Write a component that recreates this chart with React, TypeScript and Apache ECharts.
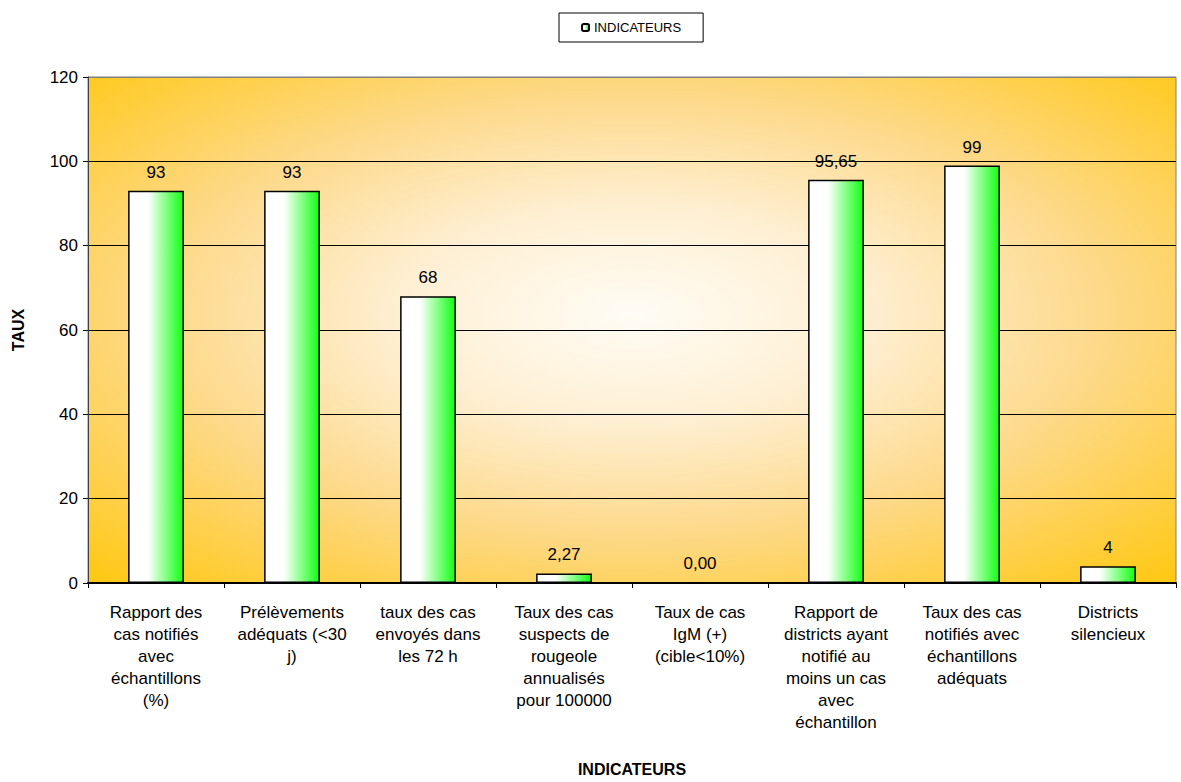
import React, { useEffect, useRef } from "react";
import * as echarts from "echarts";

const categories = [
  "Rapport des\ncas notifiés\navec\néchantillons\n(%)",
  "Prélèvements\nadéquats (<30\nj)",
  "taux des cas\nenvoyés dans\nles 72 h",
  "Taux des cas\nsuspects de\nrougeole\nannualisés\npour 100000",
  "Taux de cas\nIgM (+)\n(cible<10%)",
  "Rapport de\ndistricts ayant\nnotifié au\nmoins un cas\navec\néchantillon",
  "Taux des cas\nnotifiés avec\néchantillons\nadéquats",
  "Districts\nsilencieux",
];
const values = [93, 93, 68, 2.27, 0.0, 95.65, 99, 4];
const valueLabels = ["93", "93", "68", "2,27", "0,00", "95,65", "99", "4"];
const seriesName = "INDICATEURS";
const yTicks = { min: 0, max: 120, interval: 20 };

export default function App() {
  const ref = useRef<HTMLDivElement>(null);
  useEffect(() => {
    if (!ref.current) return;
    const chart = echarts.init(ref.current, null, { renderer: "svg" });
    const font = "'Liberation Sans', Arial, sans-serif";
    chart.setOption({
      animation: false,
      backgroundColor: "#ffffff",
      textStyle: { fontFamily: font, color: "#000" },
      legend: {
        show: true,
        left: 559,
        top: 13,
        padding: [8, 22, 8, 22],
        borderColor: "#000",
        borderWidth: 1,
        itemWidth: 7,
        itemHeight: 7,
        textStyle: { fontSize: 13, fontFamily: font, color: "#000" },
        data: [seriesName],
      },
      grid: {
        left: 88,
        right: 5,
        top: 77,
        bottom: 199,
        show: true,
        borderColor: "#808080",
        borderWidth: 1,
        outerBoundsMode: "none",
        backgroundColor: {
          type: "radial",
          x: 0.5,
          y: 0.47,
          r: 0.72,
          colorStops: [
            { offset: 0, color: "#FFFCF5" },
            { offset: 0.3, color: "#FEEFD2" },
            { offset: 0.6, color: "#FDD98A" },
            { offset: 1, color: "#FFC814" },
          ],
        },
      },
      xAxis: {
        type: "category",
        data: categories,
        name: "INDICATEURS",
        nameLocation: "middle",
        nameGap: 178,
        nameTextStyle: { fontSize: 16, fontWeight: "bold", fontFamily: font, color: "#000" },
        axisLine: { show: true, lineStyle: { color: "#000", width: 2 } },
        axisTick: { show: true, inside: false, length: 5, alignWithLabel: false, lineStyle: { color: "#000" } },
        axisLabel: {
          interval: 0,
          margin: 18,
          fontSize: 17,
          lineHeight: 22,
          color: "#000",
          fontFamily: font,
          align: "center",
        },
      },
      yAxis: {
        type: "value",
        min: yTicks.min,
        max: yTicks.max,
        interval: yTicks.interval,
        name: "TAUX",
        nameLocation: "middle",
        nameGap: 62,
        nameRotate: 90,
        nameTextStyle: { fontSize: 16, fontWeight: "bold", fontFamily: font, color: "#000" },
        axisLine: { show: true, lineStyle: { color: "#404040", width: 1 } },
        axisTick: { show: true, inside: false, length: 5, lineStyle: { color: "#000" } },
        axisLabel: { fontSize: 17, margin: 10, color: "#000", fontFamily: font },
        splitLine: {
          show: true,
          lineStyle: {
            color: ["#000", "#000", "#000", "#000", "#000", "#000", "#808080"],
            width: 1,
          },
        },
      },
      series: [
        {
          name: seriesName,
          type: "bar",
          data: values,
          barWidth: "41%",
          itemStyle: {
            borderColor: "#000",
            borderWidth: 1.5,
            color: {
              type: "linear",
              x: 0,
              y: 0,
              x2: 1,
              y2: 0,
              colorStops: [
                { offset: 0, color: "#ffffff" },
                { offset: 0.35, color: "#ffffff" },
                { offset: 1, color: "#10ff10" },
              ],
            },
          },
          label: {
            show: true,
            position: "top",
            distance: 10,
            fontSize: 17,
            color: "#000",
            fontFamily: font,
            formatter: (p: any) => valueLabels[p.dataIndex],
          },
        },
      ],
    });
    return () => chart.dispose();
  }, []);
  return <div ref={ref} style={{ width: 1181, height: 782, position: "absolute", left: 0, top: 0 }} />;
}
